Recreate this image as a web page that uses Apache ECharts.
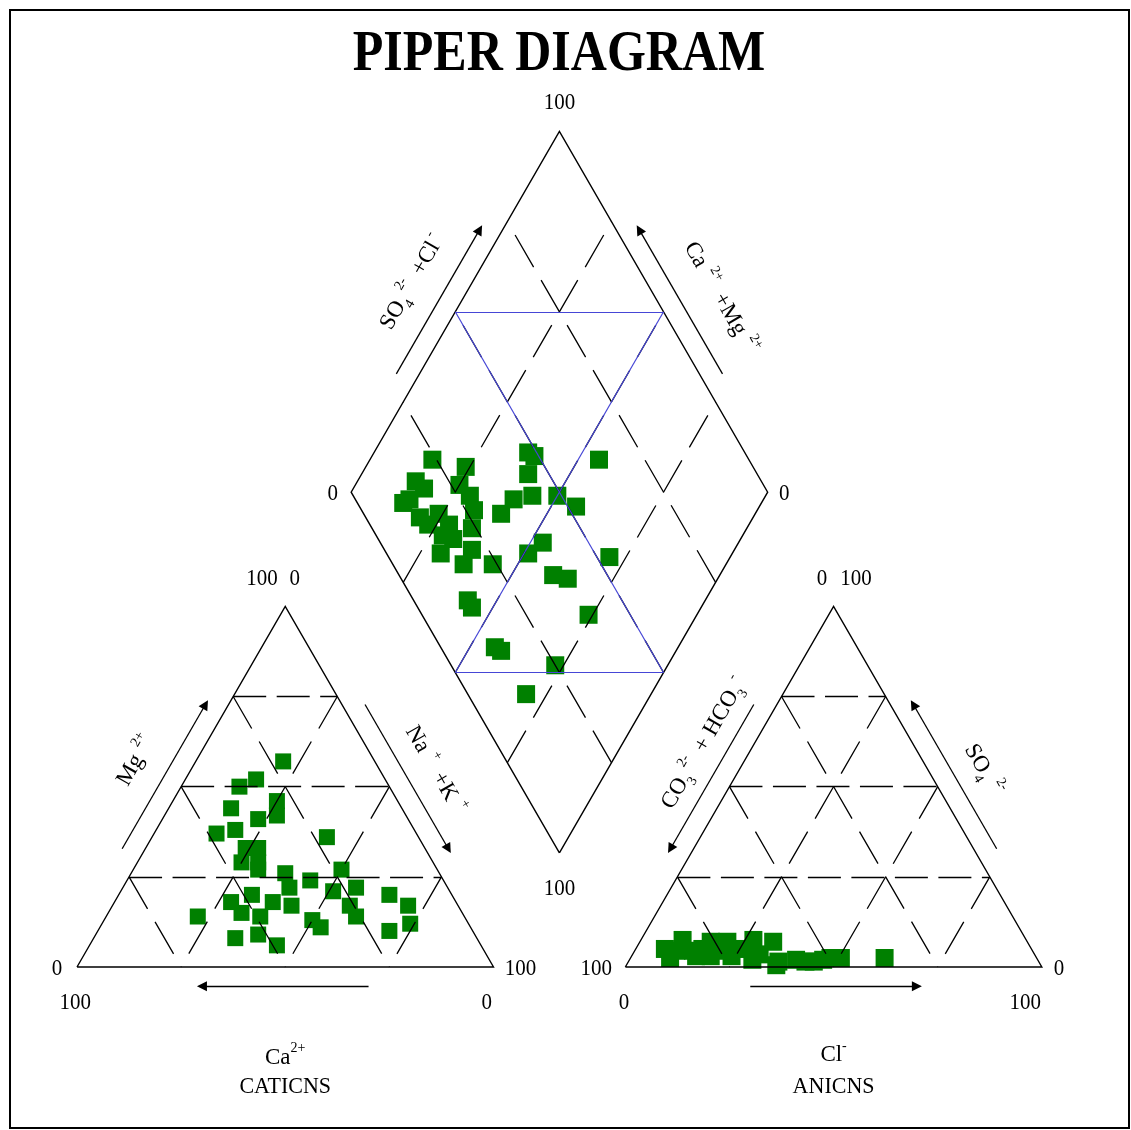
<!DOCTYPE html>
<html>
<head>
<meta charset="utf-8">
<script src="https://cdn.jsdelivr.net/npm/echarts@6/dist/echarts.min.js"></script>
<style>
  html, body { margin: 0; padding: 0; background: #fff; overflow: hidden; }
  #chart { width: 1131px; height: 1130px; }
</style>
</head>
<body>
<div id="chart"></div>
<script>
// ---- Sample chemistry (percent of meq/L) ----
// Cations
const cationCa  = [22, 31, 36, 41, 29, 31, 36, 43, 48, 22, 43, 40, 46, 42, 43, 37, 38, 32, 23, 28, 22, 26, 26, 15, 12, 14, 20, 64, 54, 53, 48, 44, 40, 49, 52, 49, 58, 37, 36];
const cationMg  = [57, 52, 50, 44, 46, 42, 41, 38, 37, 36, 33, 33, 29, 29, 27, 26, 22, 24, 27, 21, 22, 17, 14, 20, 17, 12, 10, 14, 18, 15, 20, 18, 17, 14,  9,  6,  8, 13, 11];
const cationNaK = [21, 17, 14, 15, 25, 27, 23, 19, 15, 42, 24, 27, 25, 29, 30, 37, 40, 44, 50, 51, 56, 57, 60, 65, 71, 74, 70, 22, 28, 32, 32, 38, 43, 37, 39, 45, 34, 50, 53];

// Anions
const anionHCO3 = [88, 88, 82.5, 85.5, 81.5, 81.5, 79, 76, 78, 75.5, 72, 73, 69, 65.5, 68.5, 66, 61, 62.5, 63.5, 58, 56, 54, 51.5, 49.5, 47, 36.5];
const anionSO4  = [5, 2.5, 7.5, 4.5, 4.5, 3, 5, 7, 3, 4.5, 7, 3, 5, 7.5, 2, 3.5, 7, 1.5, 0.5, 2, 1.5, 1.5, 2, 2.5, 2.5, 2.5];
const anionCl   = [7, 9.5, 10, 10, 14, 15.5, 16, 17, 19, 20, 21, 24, 26, 27, 29.5, 30.5, 32, 36, 36, 40, 42.5, 44.5, 46.5, 48, 50.5, 61];

// Central field: Ca+Mg and SO4+Cl
const diamondCaMg  = [85, 86, 83, 85, 86, 80, 76, 77, 72, 70, 69, 72, 76, 75, 71, 68, 66, 63, 63, 56, 61, 60, 56, 60, 63, 61, 50, 44, 45, 47, 49, 40, 36, 29, 57, 55, 26, 44, 42, 27, 30];
const diamondSO4Cl = [24, 17, 18, 13, 11, 13, 18, 14, 16, 13, 18, 19, 31, 27, 28, 27, 24, 21, 17, 24, 33, 38, 43, 45, 48, 49, 49, 52, 64, 39, 34, 37, 40, 53, 13, 13, 40, 13, 14, 25, 14];

// Grid divisions (percent)
const gridSteps = [25, 50, 75];
const scaleEnds = ['0', '100'];

// ---- Layout geometry (triangle side = 100 units) ----
const H = Math.sqrt(3) / 2;
const GAP = 31.65;
const PX = 4.165;           // screen pixels per unit
const ORIGIN = [77, 967];   // pixel position of the cation triangle's left corner
const W = 1131, HT = 1130;

const L0 = [0, 0], L1 = [100, 0], LA = [50, 100 * H];
const R0 = [100 + GAP, 0], R1 = [200 + GAP, 0], RA = [150 + GAP, 100 * H];
const DB = [100 + GAP / 2, GAP / 2 * Math.sqrt(3)];
const DL = [DB[0] - 50, DB[1] + 100 * H];
const DR = [DB[0] + 50, DB[1] + 100 * H];
const DT = [DB[0], DB[1] + 200 * H];

const add = (p, v, s = 1) => [p[0] + v[0] * s, p[1] + v[1] * s];
const mid = (a, b) => [(a[0] + b[0]) / 2, (a[1] + b[1]) / 2];
const unit = (a, b) => { const dx = b[0] - a[0], dy = b[1] - a[1], l = Math.hypot(dx, dy); return [dx / l, dy / l]; };
const NL = [-H, 0.5], NR = [H, 0.5], ND = [0, -1];

// ---- Point positions ----
const cationPts = cationCa.map((ca, i) => {
  const tot = ca + cationMg[i] + cationNaK[i];
  const mg = cationMg[i] / tot * 100, na = cationNaK[i] / tot * 100;
  return [L0[0] + na + mg / 2, mg * H];
});
const anionPts = anionHCO3.map((hc, i) => {
  const tot = hc + anionSO4[i] + anionCl[i];
  const so = anionSO4[i] / tot * 100, cl = anionCl[i] / tot * 100;
  return [R0[0] + cl + so / 2, so * H];
});
const diamondPts = diamondCaMg.map((c, i) => {
  const s = diamondSO4Cl[i];
  return [DB[0] + (s - c) / 2, DB[1] + (s + c) * H];
});

// ---- Grid lines ----
const triHoriz = [], triSlant = [], diaSlant = [];
[L0, R0].forEach(o => {
  gridSteps.forEach(k => {
    const y = k * H;
    triHoriz.push({ coords: [[o[0] + k / 2, y], [o[0] + 100 - k / 2, y]] });
    triSlant.push({ coords: [[o[0] + k / 2, y], [o[0] + k, 0]] });
    triSlant.push({ coords: [[o[0] + 100 - k / 2, y], [o[0] + 100 - k, 0]] });
  });
});
gridSteps.forEach(j => {
  const a = [DB[0] - j / 2, DB[1] + j * H];
  diaSlant.push({ coords: [a, [a[0] + 50, a[1] + 100 * H]] });
  const b = [DB[0] + j / 2, DB[1] + j * H];
  diaSlant.push({ coords: [b, [b[0] - 50, b[1] + 100 * H]] });
});

const outlines = [
  { coords: [L0, L1, LA, L0] },
  { coords: [R0, R1, RA, R0] },
  { coords: [DB, DR, DT, DL, DB] }
];
const ULm = mid(DL, DT), URm = mid(DR, DT), LLm = mid(DL, DB), LRm = mid(DR, DB);
const blueLines = [
  { coords: [ULm, URm] }, { coords: [LLm, LRm] },
  { coords: [ULm, LRm] }, { coords: [URm, LLm] }
];

// Axis arrows run beside each side, from 30 % to 70 % of its length
function sideArrow(p, q, n, d) {
  const u = unit(p, q);
  return { coords: [add(add(p, u, 30), n, d), add(add(p, u, 70), n, d)] };
}
const arrows = [
  sideArrow(L0, LA, NL, 4.8), sideArrow(LA, L1, NR, 4.8), sideArrow(L1, L0, ND, 4.6),
  sideArrow(RA, R0, NL, 4.8), sideArrow(R1, RA, NR, 4.8), sideArrow(R0, R1, ND, 4.6),
  sideArrow(DL, DT, NL, 4.8), sideArrow(DR, DT, NR, 4.8)
];

const lineBase = { type: 'lines', coordinateSystem: 'cartesian2d', silent: true, z: 3, animation: false };

const chart = echarts.init(document.getElementById('chart'), null, { renderer: 'canvas' });
chart.setOption({
  backgroundColor: '#ffffff',
  animation: false,
  grid: { left: 0, right: 0, top: 0, bottom: 0 },
  xAxis: { type: 'value', min: -ORIGIN[0] / PX, max: (W - ORIGIN[0]) / PX, show: false },
  yAxis: { type: 'value', min: -(HT - ORIGIN[1]) / PX, max: ORIGIN[1] / PX, show: false },
  series: [
    { type: 'scatter', symbol: 'rect', symbolSize: 16, data: cationPts, itemStyle: { color: '#008000', opacity: 1 }, z: 2, silent: true },
    { type: 'scatter', symbol: 'rect', symbolSize: 18, data: anionPts, itemStyle: { color: '#008000', opacity: 1 }, z: 2, silent: true },
    { type: 'scatter', symbol: 'rect', symbolSize: 18, data: diamondPts, itemStyle: { color: '#008000', opacity: 1 }, z: 2, silent: true },
    Object.assign({}, lineBase, { data: triHoriz, lineStyle: { color: '#000', width: 1.3, type: [33, 10.5], opacity: 1 } }),
    Object.assign({}, lineBase, { data: triSlant, lineStyle: { color: '#000', width: 1.3, type: [37, 15], opacity: 1 } }),
    Object.assign({}, lineBase, { data: diaSlant, lineStyle: { color: '#000', width: 1.3, type: [37, 15], opacity: 1 } }),
    Object.assign({}, lineBase, { polyline: true, data: outlines, lineStyle: { color: '#000', width: 1.4, type: 'solid', opacity: 1 } }),
    Object.assign({}, lineBase, { data: blueLines, z: 4, lineStyle: { color: '#4646d6', width: 1.2, type: 'solid', opacity: 1 } }),
    Object.assign({}, lineBase, { data: arrows, symbol: ['none', 'triangle'], symbolSize: 10,
      lineStyle: { color: '#000', width: 1.3, type: 'solid', opacity: 1 }, itemStyle: { color: '#000' } })
  ]
});

// ---- Text ----
const SERIF = '"Liberation Serif", "Times New Roman", serif';
const toPx = p => chart.convertToPixel({ gridIndex: 0 }, p);
const rich = {
  n: { fontFamily: SERIF, fontSize: 23, fill: '#000', lineHeight: 32 },
  t: { fontFamily: SERIF, fontSize: 14, fill: '#000', verticalAlign: 'top' },
  b: { fontFamily: SERIF, fontSize: 14, fill: '#000', verticalAlign: 'bottom' }
};
function plain(p, text, size) {
  const q = toPx(p);
  return { type: 'text', x: q[0], y: q[1], scaleY: 1.08, silent: true, z: 10,
    style: { text, fontFamily: SERIF, fontSize: size || 21, fill: '#000', align: 'center', verticalAlign: 'middle' } };
}
function richText(p, text, rot) {
  const q = toPx(p);
  return { type: 'text', x: q[0], y: q[1], rotation: rot || 0, silent: true, z: 10,
    style: { text, rich, fontFamily: SERIF, fontSize: 23, fill: '#000', lineHeight: 32, align: 'center', verticalAlign: 'middle' } };
}
function sideLabel(p, q, n, t, d, text, rot) {
  const u = unit(p, q);
  return richText(add(add(p, u, t), n, d), text, rot);
}
const [Z, F] = scaleEnds;
const graphics = [
  { type: 'rect', shape: { x: 10, y: 10, width: 1119, height: 1118 }, style: { fill: 'none', stroke: '#000', lineWidth: 2 }, silent: true },
  { type: 'text', x: 559, y: 56, scaleY: 1.12, silent: true, z: 10,
    style: { text: 'PIPER DIAGRAM', fontFamily: SERIF, fontWeight: 'bold', fontSize: 50, fill: '#000', align: 'center', verticalAlign: 'middle' } },
  // central field scale ends
  plain(add(DT, [0, 6.7]), F), plain(add(DL, [-4.4, -0.4]), Z),
  plain(add(DR, [4.0, -0.4]), Z), plain(add(DB, [0, -8.6]), F),
  // cation triangle scale ends
  plain(add(LA, [-5.6, 6.6]), F), plain(add(LA, [2.3, 6.6]), Z),
  plain(add(L0, [-4.8, -0.5]), Z), plain(add(L0, [-0.4, -8.6]), F),
  plain(add(L1, [6.5, -0.5]), F), plain(add(L1, [-1.6, -8.6]), Z),
  // anion triangle scale ends
  plain(add(RA, [-2.8, 6.6]), Z), plain(add(RA, [5.4, 6.6]), F),
  plain(add(R0, [-7, -0.5]), F), plain(add(R0, [-0.3, -8.6]), Z),
  plain(add(R1, [4.1, -0.5]), Z), plain(add(R1, [-4, -8.6]), F),
  // side titles
  sideLabel(L0, LA, NL, 50, 12.5, '{n|Mg}{t|  2+}', Math.PI / 3),
  sideLabel(LA, L1, NR, 52, 11.5, '{n|Na}{t|  +}{n|  +K}{t|  +}', -Math.PI / 3),
  sideLabel(DL, DT, NL, 51, 12.5, '{n|SO}{b|4}{t| 2-}{n|  +Cl}{t| -}', Math.PI / 3),
  sideLabel(DR, DT, NR, 46, 13.5, '{n|Ca}{t|  2+}{n|  +Mg}{t|  2+}', -Math.PI / 3),
  sideLabel(R0, RA, NL, 56, 10.5, '{n|CO}{b|3}{t| 2-}{n|  + HCO}{b|3}{t| -}', Math.PI / 3),
  sideLabel(RA, R1, NR, 52, 11.5, '{n|SO}{b|4}{t|  2-}', -Math.PI / 3),
  // bottom captions
  richText([50, -21.8], '{n|Ca}{t|2+}', 0),
  plain([50, -28.8], 'CATICNS', 22),
  richText([DB[0] + 50 + GAP / 2, -21.2], '{n|Cl}{t|-}', 0),
  plain([DB[0] + 50 + GAP / 2, -28.8], 'ANICNS', 22)
];
chart.setOption({ graphic: graphics });
</script>
</body>
</html>
